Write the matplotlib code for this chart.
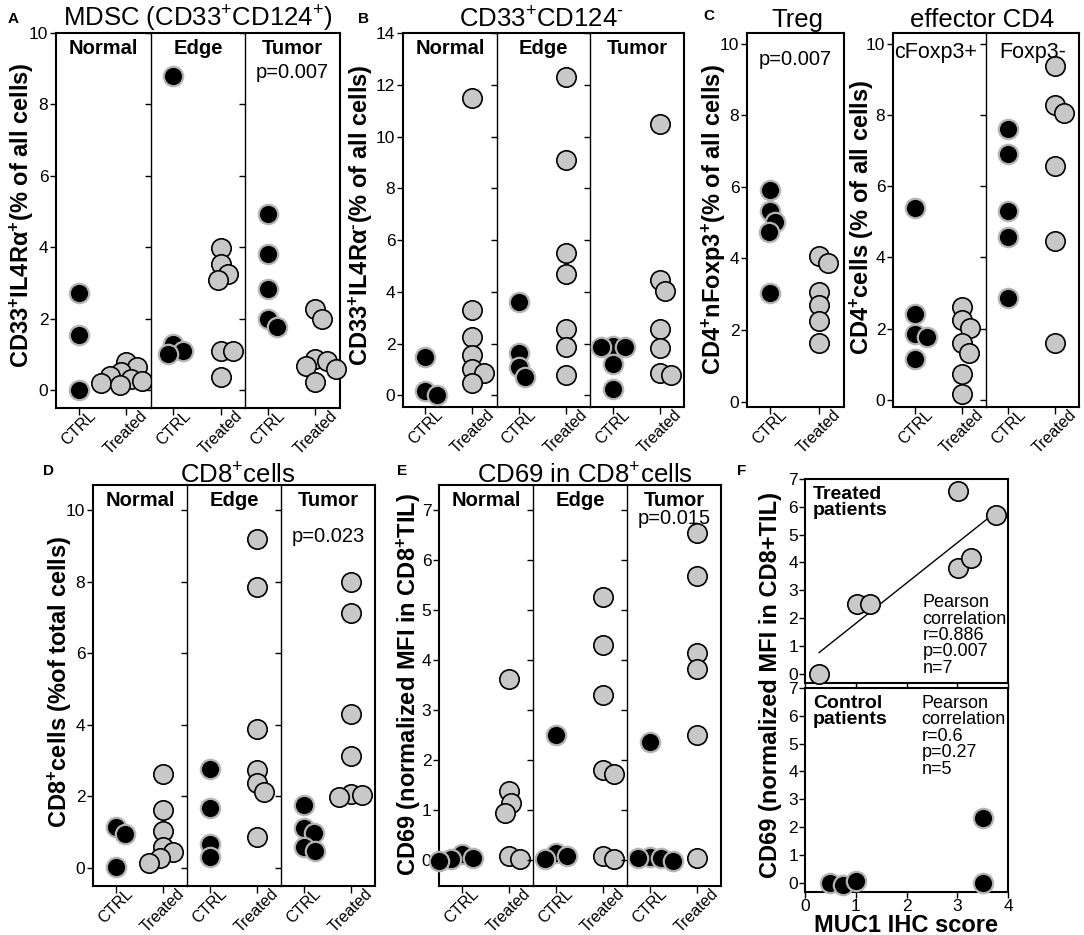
import numpy as np
import matplotlib
matplotlib.use("Agg")
import matplotlib.pyplot as plt

plt.rcParams['font.family'] = ['Liberation Sans', 'DejaVu Sans']
plt.rcParams['mathtext.default'] = 'regular'

# ---------------- data ----------------
groups = ['CTRL', 'Treated']
regions = ['Normal', 'Edge', 'Tumor']

# A: MDSC (CD33+CD124+)
mdsc_ctrl = [[2.72, 1.55, 0.0], [8.8, 1.3, 1.1, 1.0], [4.94, 3.82, 2.83, 1.99, 1.78]]
mdsc_treated = [[0.8, 0.65, 0.5, 0.4, 0.3, 0.25, 0.2, 0.15],
                [3.98, 3.52, 3.26, 3.09, 1.09, 1.09, 0.36],
                [2.27, 1.99, 0.87, 0.82, 0.68, 0.6, 0.22]]
# B: CD33+CD124-
cd124neg_ctrl = [[1.5, 0.15, 0.03], [3.6, 1.65, 1.1, 0.7], [1.9, 1.88, 1.85, 1.2, 0.25]]
cd124neg_treated = [[11.5, 3.3, 2.25, 1.55, 1.0, 0.88, 0.48],
                    [12.3, 9.1, 5.5, 4.7, 2.55, 1.85, 0.8],
                    [10.5, 4.45, 4.05, 2.55, 1.83, 0.86, 0.77]]
# C: Treg and effector CD4
treg_ctrl = [[5.9, 5.33, 5.03, 4.75, 3.03]]
treg_treated = [[4.08, 3.87, 3.07, 2.69, 2.24, 1.63]]
eff_labels = ['cFoxp3+', 'Foxp3-']
eff_ctrl = [[5.4, 2.42, 1.85, 1.76, 1.15], [7.6, 6.9, 5.3, 4.57, 2.86]]
eff_treated = [[2.62, 2.25, 2.01, 1.59, 1.33, 0.73, 0.16],
               [9.37, 8.27, 8.05, 6.56, 4.47, 1.6]]
# D: CD8+ cells
cd8_ctrl = [[1.15, 0.95, 0.02], [2.78, 1.68, 0.68, 0.3], [1.77, 1.12, 0.98, 0.58, 0.48]]
cd8_treated = [[2.63, 1.63, 1.04, 0.6, 0.44, 0.28, 0.14],
               [9.2, 7.85, 3.89, 2.75, 2.38, 2.12, 0.86],
               [7.99, 7.13, 4.31, 3.12, 2.08, 2.05, 1.98]]
# E: CD69 in CD8+ cells
cd69_ctrl = [[0.12, 0.05, 0.03, -0.02], [2.5, 0.15, 0.09, 0.03], [2.37, 0.07, 0.05, 0.05, -0.02]]
cd69_treated = [[3.63, 1.38, 1.15, 0.95, 0.09, 0.03],
                [5.27, 4.3, 3.31, 1.8, 1.73, 0.09, 0.03],
                [6.55, 5.69, 4.15, 3.82, 2.5, 0.05]]
# F: correlation with MUC1 IHC score
muc1_treated = [0.28, 1.03, 1.28, 3.02, 3.76, 3.02, 3.27]
cd69_f_treated = [0.0, 2.5, 2.5, 6.58, 5.7, 3.79, 4.15]
muc1_ctrl = [0.5, 0.75, 1.0, 3.5, 3.5]
cd69_f_ctrl = [0.0, -0.08, 0.06, 2.34, 0.0]

# ---------------- figure ----------------
W, H = 1084, 935
fig = plt.figure(figsize=(W / 100, H / 100), dpi=100)

GRAY = '#c8c8c8'
MS = 195
YTICK_FS = 12.5
XTICK_FS = 11.5
HY = '\u2010'  # short hyphen for superscript minus


def px_axes(x0, y0, x1, y1):
    return fig.add_axes([x0 / W, 1 - y1 / H, (x1 - x0) / W, (y1 - y0) / H])


def swarm_x(ax, center, vals, diam=19.0, frac=0.62):
    vals = np.asarray(vals, float)
    t = ax.transData
    ypix = t.transform(np.column_stack([np.full(len(vals), center), vals]))[:, 1]
    x0 = t.transform((center, 0))[0]
    pxu = t.transform((center + 1, 0))[0] - x0
    dmin = diam * frac
    placed = []
    out = np.zeros(len(vals))
    for i in np.argsort(-vals, kind='stable'):
        y = ypix[i]
        cands = [0.0]
        for (px, py) in placed:
            dy = abs(py - y)
            if dy < dmin:
                dx = np.sqrt(dmin ** 2 - dy ** 2)
                cands += [px + dx, px - dx]
        best = 0.0
        for c in sorted(cands, key=lambda c: (abs(c), -c)):
            if all((c - px) ** 2 + (y - py) ** 2 >= dmin ** 2 - 1e-6 for px, py in placed):
                best = c
                break
        placed.append((best, y))
        out[i] = center + best / pxu
    return out


def draw_points(ax, center, vals, kind):
    xs = swarm_x(ax, center, vals)
    if kind == 'ctrl':
        ax.scatter(xs, vals, s=MS, c='black', edgecolors='#b4b4b4', linewidths=1.6,
                   zorder=3, clip_on=False)
    else:
        ax.scatter(xs, vals, s=MS, c=GRAY, edgecolors='black', linewidths=1.2,
                   zorder=3, clip_on=False)


def strip_group(x0, x1, y0, y1, ylim, yticks, ctrl, trt, labels, label_bold=True,
                label_fs=14.5):
    n = len(ctrl)
    edges = np.linspace(x0, x1, n + 1)
    axes = []
    for i in range(n):
        ax = px_axes(edges[i], y0, edges[i + 1], y1)
        ax.set_xlim(-0.48, 1.52)
        ax.set_ylim(*ylim)
        ax.set_yticks(yticks)
        ax.set_xticks([0, 1])
        ax.set_xticklabels(groups, rotation=45, ha='center', va='top',
                           rotation_mode='default', fontsize=XTICK_FS)
        ax.tick_params(axis='y', direction='out', length=4, width=1, labelsize=YTICK_FS, pad=1.5)
        ax.tick_params(axis='x', direction='out', length=5, width=1, pad=-5)
        ax.tick_params(axis='y', right=False)
        for sp in ax.spines.values():
            sp.set_linewidth(1.5)
        if i > 0:
            ax.set_yticklabels([])
            ax.spines['left'].set_linewidth(1.0)
        if i < n - 1:
            ax.spines['right'].set_visible(False)
        draw_points(ax, 0, ctrl[i], 'ctrl')
        draw_points(ax, 1, trt[i], 'trt')
        if labels is not None:
            ax.text(0.5, 0.985, labels[i], transform=ax.transAxes, ha='center', va='top',
                    fontsize=label_fs, fontweight='bold' if label_bold else 'normal')
        axes.append(ax)
    return axes


def ylab(x, y, s):
    fig.text(x / W, 1 - y / H, s, rotation=90, ha='center', va='center',
             fontsize=17, fontweight='bold')


def title(x, y, s):
    fig.text(x / W, 1 - y / H, s, ha='center', va='baseline', fontsize=18.5)


def panel_letter(x, y, s):
    fig.text(x / W, 1 - y / H, s, ha='left', va='top', fontsize=11, fontweight='bold')


# A
axA = strip_group(56, 340, 33, 408, (-0.5, 10), np.arange(0, 11, 2), mdsc_ctrl, mdsc_treated, regions)
axA[2].text(0.5, 0.92, 'p=0.007', transform=axA[2].transAxes, ha='center', va='top', fontsize=14.5)
title(198, 27, 'MDSC (CD33$^{+}$CD124$^{+}$)')
ylab(22, 215, r'CD33$^{+}$IL4R$\alpha^{+}$(% of all cells)')
panel_letter(8, 12, 'A')

# B
axB = strip_group(403, 684, 33, 407, (-0.45, 14), np.arange(0, 15, 2), cd124neg_ctrl, cd124neg_treated, regions)
title(541, 27, 'CD33$^{+}$CD124$^{' + HY + '}$')
ylab(361, 215, r'CD33$^{+}$IL4R$\alpha^{' + HY + '}$(% of all cells)')
panel_letter(358, 12, 'B')

# C - Treg
axC = strip_group(747, 844, 33, 407, (-0.15, 10.3), np.arange(0, 11, 2), treg_ctrl, treg_treated, None)
axC[0].text(0.5, 0.955, 'p=0.007', transform=axC[0].transAxes, ha='center', va='top', fontsize=14.5)
title(797, 27, 'Treg')
ylab(714, 220, 'CD4$^{+}$nFoxp3$^{+}$(% of all cells)')
panel_letter(703, 9, 'C')

# C - effector CD4
axCe = strip_group(893, 1079, 33, 407, (-0.2, 10.3), np.arange(0, 11, 2), eff_ctrl, eff_treated, None)
axCe[0].text(0.01, 0.975, eff_labels[0], transform=axCe[0].transAxes, ha='left', va='top', fontsize=15.5)
axCe[1].text(0.5, 0.975, eff_labels[1], transform=axCe[1].transAxes, ha='center', va='top', fontsize=15.5)
title(982, 27, 'effector CD4')
ylab(862, 217, 'CD4$^{+}$cells (% of all cells)')

# D
axD = strip_group(93, 375, 485, 886, (-0.5, 10.7), np.arange(0, 11, 2), cd8_ctrl, cd8_treated, regions)
axD[2].text(0.5, 0.895, 'p=0.023', transform=axD[2].transAxes, ha='center', va='top', fontsize=14.5)
title(238, 483, 'CD8$^{+}$cells')
ylab(60, 682, 'CD8$^{+}$cells (%of total cells)')
panel_letter(43, 464, 'D')

# E
axE = strip_group(439, 721, 485, 886, (-0.52, 7.5), np.arange(0, 8, 1), cd69_ctrl, cd69_treated, regions)
axE[2].text(0.5, 0.94, 'p=0.015', transform=axE[2].transAxes, ha='center', va='top', fontsize=14.5)
title(585, 483, 'CD69 in CD8$^{+}$cells')
ylab(409, 685, 'CD69 (normalized MFI in CD8$^{+}$TIL)')
panel_letter(397, 464, 'E')

# F
axF1 = px_axes(805, 479, 1008, 683)
axF2 = px_axes(805, 688, 1008, 892)
for ax in (axF1, axF2):
    ax.set_xlim(0, 4)
    ax.set_ylim(-0.33, 7.0)
    ax.set_yticks(np.arange(0, 8, 1))
    ax.set_xticks(np.arange(0, 5, 1))
    ax.tick_params(direction='out', length=4, width=1, labelsize=YTICK_FS, pad=1)
    for sp in ax.spines.values():
        sp.set_linewidth(1.5)
axF1.set_xticklabels([])
axF1.scatter(muc1_treated, cd69_f_treated, s=MS, c=GRAY, edgecolors='black', linewidths=1.2,
             zorder=3, clip_on=False)
slope, intercept = np.polyfit(muc1_treated, cd69_f_treated, 1)
xl = np.array([min(muc1_treated), max(muc1_treated)])
axF1.plot(xl, slope * xl + intercept, color='black', lw=1.0, zorder=2)
axF2.scatter(muc1_ctrl, cd69_f_ctrl, s=MS, c='black', edgecolors='#b4b4b4', linewidths=1.6,
             zorder=3, clip_on=False)
axF1.text(0.04, 0.965, 'Treated\npatients', transform=axF1.transAxes, ha='left', va='top',
          fontsize=14, fontweight='bold', linespacing=0.95)
axF1.text(0.58, 0.435, 'Pearson\ncorrelation\nr=0.886\np=0.007\nn=7', transform=axF1.transAxes,
          ha='left', va='top', fontsize=13, linespacing=0.95)
axF2.text(0.04, 0.965, 'Control\npatients', transform=axF2.transAxes, ha='left', va='top',
          fontsize=14, fontweight='bold', linespacing=0.95)
axF2.text(0.575, 0.965, 'Pearson\ncorrelation\nr=0.6\np=0.27\nn=5', transform=axF2.transAxes,
          ha='left', va='top', fontsize=13, linespacing=0.95)
axF2.set_xlabel('MUC1 IHC score', fontsize=17, fontweight='bold', labelpad=0)
ylab(771, 685, 'CD69 (normalized MFI in CD8+TIL)')
panel_letter(737, 464, 'F')

fig.savefig('out.png', dpi=100)
